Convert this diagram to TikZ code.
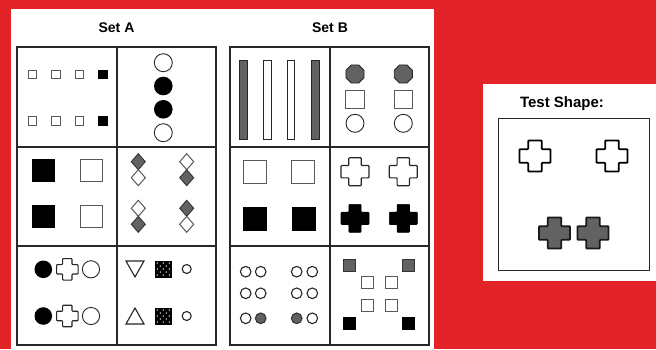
\documentclass[tikz,border=0pt]{standalone}
\usepackage{fontspec}
\setmainfont{Liberation Sans}
\usetikzlibrary{shapes.geometric}
\definecolor{bgred}{RGB}{226,36,41}
\definecolor{dgrey}{RGB}{98,98,98}
\definecolor{edge}{RGB}{40,40,40}
\tikzset{
  gridline/.style={draw=edge,line width=2pt},
  wsq/.style={draw=black!65,fill=white,line width=1pt},
  bsq/.style={draw=black,fill=black,line width=0.6pt},
  gsq/.style={draw=black!80,fill=dgrey,line width=0.9pt},
  wcirc/.style={draw=black!85,fill=white,line width=0.9pt},
  title/.style={font=\bfseries\fontsize{14}{16}\selectfont,inner sep=0pt},
  plus/.pic={\path[pic actions,rounded corners=0.8pt]
    (-0.5,-0.22)--(-0.22,-0.22)--(-0.22,-0.5)--(0.22,-0.5)--(0.22,-0.22)--(0.5,-0.22)
    --(0.5,0.22)--(0.22,0.22)--(0.22,0.5)--(-0.22,0.5)--(-0.22,0.22)--(-0.5,0.22)--cycle;}
}
\newcommand\sqat[4]{\path[#1] (#2-#4/2,#3-#4/2) rectangle (#2+#4/2,#3+#4/2);}
\newcommand\dmd[3]{\path[#1] (#2,#3-8)--(#2+7,#3)--(#2,#3+8)--(#2-7,#3)--cycle;}
\newcommand\checksq[2]{%
  \fill[black] (#1-8.5,#2-8.5) rectangle (#1+8.5,#2+8.5);
  \foreach \i in {0,...,4}{\foreach \j in {0,...,4}{%
    \pgfmathparse{int(mod(\i+\j,2))}%
    \ifnum\pgfmathresult=0 \fill[white!80!black] (#1-6+3*\i,#2-6+3*\j) circle (0.8);\fi}}}
\begin{document}
\begin{tikzpicture}[x=1pt,y=-1pt]
\useasboundingbox (0,0) rectangle (656,349);
\fill[bgred] (0,0) rectangle (656,349);
\fill[white] (10.5,9) rectangle (434,349);
\fill[white] (483.3,84) rectangle (656,281);

% titles
\node[title] (seta) at (116.5,27.5) {Set A};
\node[title] (setb) at (330,27.5) {Set B};
\node[title,font=\bfseries\fontsize{15}{17}\selectfont] (test) at (562,104) {Test Shape:};

% grids
\foreach \x/\y in {17/46.5,230/46.5}{
  \draw[gridline] (\x,46.5) rectangle (\x+199,345);
  \draw[gridline] (\x+99.5,46.5) -- (\x+99.5,345);
  \draw[gridline] (\x,147) -- (\x+199,147);
  \draw[gridline] (\x,246) -- (\x+199,246);
}

% ---- Set A ----
% A1
\foreach \y in {74.3,121}{
  \foreach \x in {32.7,56,79.3}{\sqat{wsq}{\x}{\y}{8.5}}
  \sqat{bsq}{102.7}{\y}{8.5}
}
% A2
\draw[wcirc] (163.3,62.7) circle (9);
\fill[black] (163.3,86) circle (9.3);
\fill[black] (163.3,109.3) circle (9.3);
\draw[wcirc] (163.3,132.7) circle (9);
% A3
\sqat{bsq}{43.3}{170}{22}
\sqat{bsq}{43.3}{216.7}{22}
\sqat{wsq}{91.7}{170}{22}
\sqat{wsq}{91.7}{216.7}{22}
% A4
\dmd{gsq}{138.3}{161.7}\dmd{wsq}{138.3}{177.7}
\dmd{wsq}{186.7}{161.7}\dmd{gsq}{186.7}{177.7}
\dmd{wsq}{138.3}{208.3}\dmd{gsq}{138.3}{224.3}
\dmd{gsq}{186.7}{208.3}\dmd{wsq}{186.7}{224.3}
% A5
\foreach \y in {269.3,316}{
  \fill[black] (43.3,\y) circle (8.8);
  \pic[draw=black!85,fill=white,line width=1.1pt,scale=21.5] at (67.3,\y) {plus};
  \draw[wcirc] (91,\y) circle (8.6);
}
% A6
\draw[wcirc,line width=1.1pt] (126,261)--(144,261)--(135,277)--cycle;
\draw[wcirc,line width=1.1pt] (126,324)--(144,324)--(135,308)--cycle;
\checksq{163.3}{269}
\checksq{163.3}{316}
\draw[wcirc,line width=1.1pt] (186.7,269) circle (4.5);
\draw[wcirc,line width=1.1pt] (186.7,316) circle (4.5);

% ---- Set B ----
% B1
\foreach \x/\s in {243.3/gsq,267.7/wsq,291/wsq,315.7/gsq}{
  \path[\s,draw=black!85] (\x-3.8,60) rectangle (\x+3.8,139);
}
% B2
\foreach \x in {355,403.3}{
  \node[regular polygon,regular polygon sides=8,minimum size=19.5pt,inner sep=0pt,
        draw=black!85,fill=dgrey,line width=0.9pt] (oct\x) at (\x,74) {};
  \sqat{wsq}{\x}{99.3}{18.5}
  \draw[wcirc] (\x,123.3) circle (9);
}
% B3
\sqat{wsq}{255}{172.3}{23}
\sqat{wsq}{303.3}{172.3}{23}
\sqat{bsq}{255}{219}{23}
\sqat{bsq}{303.3}{219}{23}
% B4
\foreach \x in {355,403.3}{
  \pic[draw=black!85,fill=white,line width=1.2pt,scale=28] at (\x,171.7) {plus};
  \pic[draw=black,fill=black,line width=0.6pt,scale=28] at (\x,218.3) {plus};
}
% B5
\foreach \x in {245.7,260.7,296.7,312.3}{
  \foreach \y in {271.7,293.3}{\draw[wcirc,line width=1.1pt] (\x,\y) circle (5.3);}
}
\draw[wcirc,line width=1.1pt] (245.7,318.3) circle (5.3);
\draw[gsq,line width=1.1pt] (260.7,318.3) circle (5.3);
\draw[gsq,line width=1.1pt] (296.7,318.3) circle (5.3);
\draw[wcirc,line width=1.1pt] (312.3,318.3) circle (5.3);
% B6
\sqat{gsq}{349.3}{265}{12}
\sqat{gsq}{408.3}{265}{12}
\sqat{wsq}{367.7}{282.7}{12}
\sqat{wsq}{391}{282.7}{12}
\sqat{wsq}{367.7}{305.7}{12}
\sqat{wsq}{391}{305.7}{12}
\sqat{bsq}{349.3}{323.3}{12}
\sqat{bsq}{408.3}{323.3}{12}

% ---- Test shape ----
\draw[draw=edge,line width=1.5pt] (498.3,118.3) rectangle (649.3,270.7);
\pic[draw=black,fill=white,line width=1.8pt,scale=31] at (535,156) {plus};
\pic[draw=black,fill=white,line width=1.8pt,scale=31] at (612,156) {plus};
\pic[draw=black!90,fill=dgrey,line width=1.8pt,scale=31] at (554.5,233) {plus};
\pic[draw=black!90,fill=dgrey,line width=1.8pt,scale=31] at (593,233) {plus};
\end{tikzpicture}
\end{document}
